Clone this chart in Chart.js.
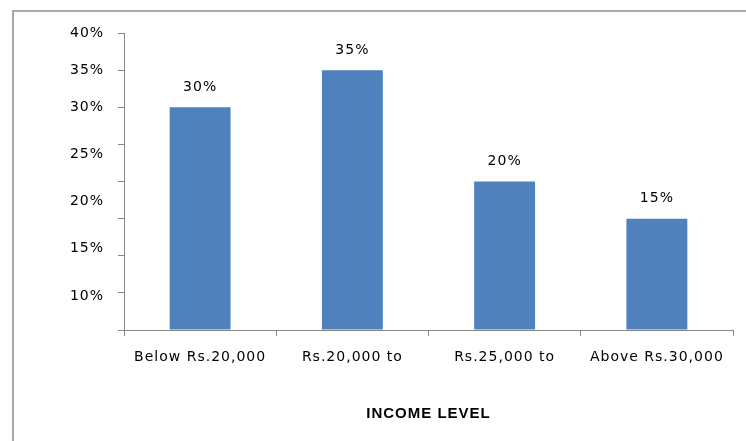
<!DOCTYPE html>
<html><head><meta charset="utf-8">
<script src="https://cdn.jsdelivr.net/npm/chart.js@4/dist/chart.umd.min.js"></script>
<style>
html,body{margin:0;padding:0;background:#fff;}
#wrap{position:relative;width:746px;height:441px;overflow:hidden;background:#fff;}
#frame{position:absolute;left:12px;top:10px;width:800px;height:500px;border-top:2px solid #a8a8a8;border-left:2px solid #a8a8a8;}
canvas{position:absolute;left:0;top:0;}
</style></head><body>
<div id="wrap"><div id="frame"></div><canvas id="c" width="746" height="441"></canvas></div>
<script>
const categories = ['Below Rs.20,000', 'Rs.20,000 to', 'Rs.25,000 to', 'Above Rs.30,000'];
const percentages = [30, 35, 20, 15];
const upperTickLabels = [40, 35];
const lowerTickLabels = [30, 25, 20, 15, 10];
const axisTitle = 'INCOME LEVEL';

const FONT = '"DejaVu Sans", Verdana, sans-serif';
const AXIS = '#868686';

const spacing = {
  id: 'spacing',
  beforeLayout(chart) { chart.ctx.letterSpacing = '1px'; },
  beforeDraw(chart) { chart.ctx.letterSpacing = '1px'; }
};

const valueLabels = {
  id: 'valueLabels',
  afterDatasetsDraw(chart) {
    const ctx = chart.ctx;
    const meta = chart.getDatasetMeta(0);
    ctx.save();
    ctx.letterSpacing = '1px';
    ctx.font = '14px ' + FONT;
    ctx.fillStyle = '#000';
    ctx.textAlign = 'center';
    ctx.textBaseline = 'middle';
    meta.data.forEach((bar, i) => {
      ctx.fillText(percentages[i] + '%', bar.x, bar.y - 20);
    });
    ctx.restore();
  }
};

const ctx = document.getElementById('c').getContext('2d');
ctx.letterSpacing = '1px';

new Chart(ctx, {
  type: 'bar',
  data: {
    labels: categories,
    datasets: [{
      data: percentages,
      yAxisID: 'y',
      xAxisID: 'x',
      backgroundColor: '#4F81BD',
      borderWidth: 0,
      barPercentage: 0.4,
      categoryPercentage: 1.0
    }]
  },
  options: {
    responsive: false,
    animation: false,
    events: [],
    layout: { padding: { top: 33, right: 13, bottom: 0, left: 0 } },
    plugins: { legend: { display: false }, tooltip: { enabled: false } },
    scales: {
      x: {
        grid: { display: true, drawOnChartArea: false, color: AXIS, tickLength: 6, offset: true },
        border: { display: true, color: AXIS, width: 1 },
        ticks: { color: '#000', font: { family: FONT, size: 14 }, padding: 13, maxRotation: 0, autoSkip: false },
        title: { display: true, text: axisTitle, color: '#000',
                 font: { family: '"Liberation Sans", Arial, sans-serif', size: 15, weight: 'bold' },
                 padding: { top: 0, bottom: 18 } },
        afterFit(s) { s.height = 111; }
      },
      y2: {
        type: 'linear',
        position: 'left',
        weight: 5,
        min: 6.41,
        max: 37.84,
        grid: { display: false, drawTicks: false },
        border: { display: false },
        ticks: {
          stepSize: 5,
          padding: 14,
          color: '#000',
          font: { family: FONT, size: 14 },
          callback(v) {
            const m = lowerTickLabels.find(k => Math.abs(k - v) < 0.01);
            return m === undefined ? '' : m + '%';
          }
        },
        afterFit(s) { s.width = 118; }
      },
      y: {
        position: 'left',
        weight: 0,
        min: 0,
        max: 40,
        grid: { display: true, drawOnChartArea: false, color: AXIS, tickLength: 6 },
        border: { display: true, color: AXIS, width: 1 },
        ticks: {
          stepSize: 5,
          mirror: true,
          padding: -54,
          color: '#000',
          font: { family: FONT, size: 14 },
          callback(v) {
            return upperTickLabels.includes(v) ? v + '%' : '';
          }
        },
        afterFit(s) { s.width = 6; }
      }
    }
  },
  plugins: [spacing, valueLabels]
});
</script>
</body></html>
